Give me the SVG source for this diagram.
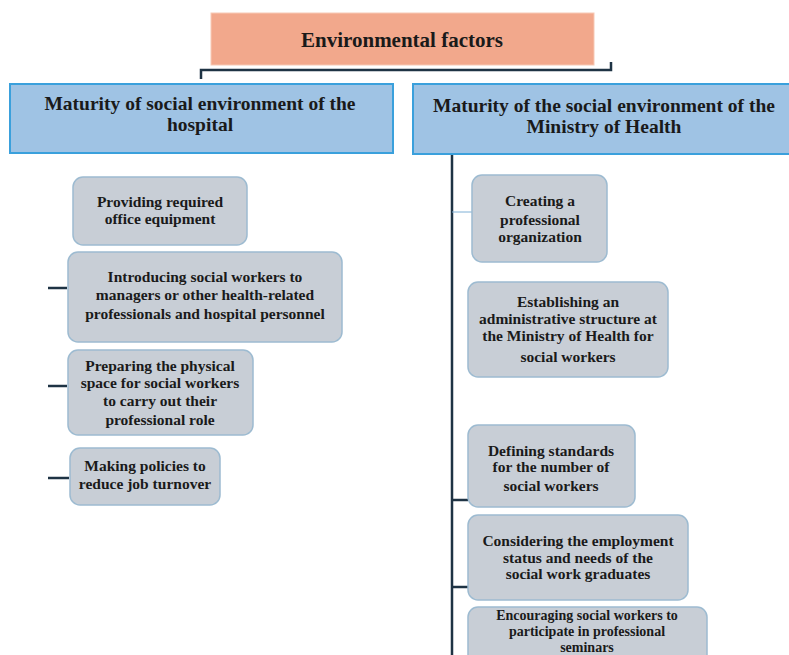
<svg xmlns="http://www.w3.org/2000/svg" width="789" height="655" viewBox="0 0 789 655">
<style>
text{font-family:"Liberation Serif","Times New Roman",serif;font-weight:bold;fill:#1a1a1a;text-anchor:middle}
.t{font-size:21px}
.h{font-size:19.5px}
.n{font-size:15.5px}
.s{font-size:14px}
.top{fill:#f2a88c;stroke:#f7c9b5;stroke-width:1}
.hdr{fill:#9fc3e4;stroke:#3aa0dc;stroke-width:2}
.box{fill:#c8ced6;stroke:#9dbbd1;stroke-width:1.5}
.ln{stroke:#1e3344;stroke-width:2.5;fill:none}
.thin{stroke:#7fb0d6;stroke-width:1;fill:none}
</style>
<rect width="789" height="655" fill="#ffffff"/>
<g id="connectors">
<path class="ln" d="M201 79 V70 H611 V62"/>
<path class="ln" d="M452 153 V655"/>
<path class="thin" d="M452 212 H472"/>
<path class="ln" d="M452 500 H468"/>
<path class="ln" d="M452 587 H468"/>
<path class="ln" d="M48 288 H67"/>
<path class="ln" d="M48 386 H67"/>
<path class="ln" d="M48 478 H69"/>
</g>
<g id="env">
<rect class="top" x="211" y="13" width="383" height="52"/>
<text class="t" x="402" y="47">Environmental  factors</text>
</g>
<g id="hosp">
<rect class="hdr" x="10" y="84" width="383" height="69"/>
<text class="h" x="200" y="110">Maturity of social environment of the</text>
<text class="h" x="200" y="131">hospital</text>
</g>
<g id="moh">
<rect class="hdr" x="413" y="84" width="380" height="70"/>
<text class="h" x="604" y="112">Maturity of the social environment of the</text>
<text class="h" x="604" y="133">Ministry of Health</text>
</g>
<g id="l1">
<rect class="box" x="73" y="177" width="174" height="68" rx="10"/>
<text class="n" x="160" y="207">Providing required</text>
<text class="n" x="160" y="224">office equipment</text>
</g>
<g id="l2">
<rect class="box" x="68" y="252" width="274" height="90" rx="10"/>
<text class="n" x="205" y="282">Introducing social workers to</text>
<text class="n" x="205" y="300">managers or other health-related</text>
<text class="n" x="205" y="319">professionals and hospital personnel</text>
</g>
<g id="l3">
<rect class="box" x="68" y="350" width="185" height="85" rx="10"/>
<text class="n" x="160" y="371">Preparing the physical</text>
<text class="n" x="160" y="388">space for social workers</text>
<text class="n" x="160" y="406">to carry out their</text>
<text class="n" x="160" y="425">professional role</text>
</g>
<g id="l4">
<rect class="box" x="70" y="448" width="150" height="57" rx="10"/>
<text class="n" x="145" y="471">Making policies to</text>
<text class="n" x="145" y="489">reduce job turnover</text>
</g>
<g id="r1">
<rect class="box" x="472" y="175" width="135" height="87" rx="10"/>
<text class="n" x="540" y="206">Creating a</text>
<text class="n" x="540" y="225">professional</text>
<text class="n" x="540" y="242">organization</text>
</g>
<g id="r2">
<rect class="box" x="468" y="282" width="200" height="95" rx="10"/>
<text class="n" x="568" y="307">Establishing an</text>
<text class="n" x="568" y="324">administrative structure at</text>
<text class="n" x="568" y="341">the Ministry of Health for</text>
<text class="n" x="568" y="362">social workers</text>
</g>
<g id="r3">
<rect class="box" x="468" y="425" width="167" height="82" rx="10"/>
<text class="n" x="551" y="456">Defining standards</text>
<text class="n" x="551" y="472">for the number of</text>
<text class="n" x="551" y="491">social workers</text>
</g>
<g id="r4">
<rect class="box" x="468" y="515" width="220" height="85" rx="10"/>
<text class="n" x="578" y="546">Considering the employment</text>
<text class="n" x="578" y="563">status and needs of the</text>
<text class="n" x="578" y="579">social work graduates</text>
</g>
<g id="r5">
<rect class="box" x="468" y="607" width="239" height="70" rx="10"/>
<text class="s" x="587" y="620">Encouraging social workers to</text>
<text class="s" x="587" y="636">participate in professional</text>
<text class="s" x="587" y="652">seminars</text>
</g>
</svg>
